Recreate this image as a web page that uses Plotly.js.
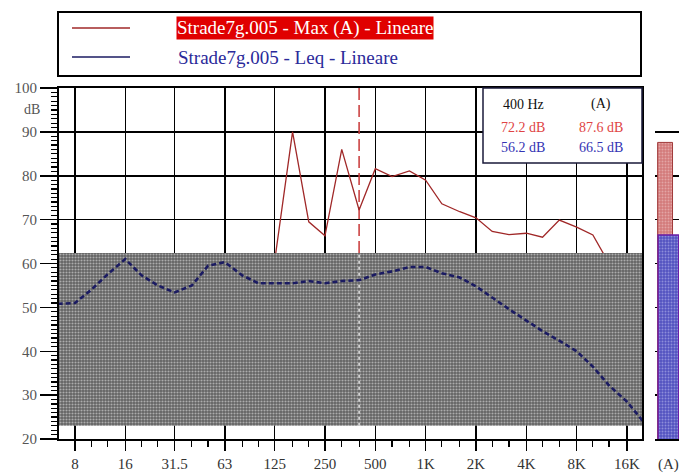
<!DOCTYPE html>
<html>
<head>
<meta charset="utf-8">
<script src="https://cdn.plot.ly/plotly-3.0.1.min.js"></script>
<style>
  html, body { margin: 0; padding: 0; background: #ffffff; }
  #chart { width: 679px; height: 475px; }
</style>
</head>
<body>
<div id="chart"></div>
<script>
// Third-octave band centre frequencies (Hz)
const bands = [6.3, 8, 10, 12.5, 16, 20, 25, 31.5, 40, 50, 63, 80, 100, 125, 160, 200, 250,
  315, 400, 500, 630, 800, 1000, 1250, 1600, 2000, 2500, 3150, 4000, 5000, 6300, 8000,
  10000, 12500, 16000, 20000];

// Max (A) spectrum, dB
const maxA = [null, null, null, null, null, null, null, null, null, null, null, null, null,
  60.5, 90.0, 69.5, 66.3, 86.0, 72.2, 81.6, 79.8, 81.1, 79.0, 73.6, 71.8, 70.4, 67.3,
  66.6, 66.9, 66.0, 69.9, 68.3, 66.5, 60.0, 55.0, null];

// Leq spectrum, dB
const leq = [50.8, 51.0, 54.0, 57.5, 61.0, 57.3, 55.0, 53.4, 55.0, 59.5, 60.3, 57.3, 55.5,
  55.5, 55.5, 56.0, 55.5, 56.0, 56.2, 57.5, 58.2, 59.2, 59.2, 57.8, 56.8, 54.8, 52.2,
  49.6, 47.0, 44.6, 42.4, 40.0, 36.5, 32.2, 28.5, 24.0];

// Overall A-weighted levels: [Max, Leq]
const totalsA = [87.6, 66.5];

// Cursor frequency and the shaded level band
const cursorHz = 400;
const shadeBand = [23.0, 62.4];

// Axis labels
const freqTicks = [8, 16, 31.5, 63, 125, 250, 500, 1000, 2000, 4000, 8000, 16000];
const freqLabels = ['8', '16', '31.5', '63', '125', '250', '500', '1K', '2K', '4K', '8K', '16K'];
const seriesNames = ['Strade7g.005 - Max (A) - Lineare', 'Strade7g.005 - Leq - Lineare'];

const RED = '#a02828';
const BLUE = '#1b1b62';
const SERIF = '"Liberation Serif", "Times New Roman", serif';

const ci = bands.indexOf(cursorHz);
const fmt = v => v.toFixed(1) + ' dB';

const traces = [
  // cursor, upper part
  { x: [cursorHz, cursorHz], y: [shadeBand[1], 100], mode: 'lines', xaxis: 'x', yaxis: 'y',
    line: { color: '#c83838', width: 1.5, dash: '12px,5px' }, hoverinfo: 'skip', showlegend: false },
  // Max (A)
  { x: bands, y: maxA, mode: 'lines', xaxis: 'x', yaxis: 'y', connectgaps: false,
    line: { color: RED, width: 1.3 }, name: seriesNames[0], showlegend: false },
  // shaded level band
  { x: [bands[0], bands[bands.length - 1], bands[bands.length - 1], bands[0], bands[0]],
    y: [shadeBand[0], shadeBand[0], shadeBand[1], shadeBand[1], shadeBand[0]],
    mode: 'lines', fill: 'toself', xaxis: 'x', yaxis: 'y',
    fillcolor: '#626262',
    fillpattern: { shape: '.', fgcolor: '#f6f6f6', size: 3, solidity: 0.38, fillmode: 'overlay' },
    line: { width: 0, color: 'rgba(0,0,0,0)' }, hoverinfo: 'skip', showlegend: false },
  // cursor, inside the band
  { x: [cursorHz, cursorHz], y: [shadeBand[0], shadeBand[1]], mode: 'lines', xaxis: 'x', yaxis: 'y',
    line: { color: '#e6e6e6', width: 1.5, dash: '3px,3px' }, hoverinfo: 'skip', showlegend: false },
  // Leq
  { x: bands, y: leq, mode: 'lines', xaxis: 'x', yaxis: 'y',
    line: { color: BLUE, width: 2.6, dash: '5px,3px' }, name: seriesNames[1], showlegend: false },
  // overall (A) bars
  { x: [0.42], y: [totalsA[0]], type: 'bar', xaxis: 'x2', yaxis: 'y', width: [0.62],
    marker: { color: '#d27a7a', line: { color: '#a03a3a', width: 1 },
      pattern: { shape: '.', fgcolor: '#f4d0d0', size: 3, solidity: 0.35, fillmode: 'overlay' } },
    hoverinfo: 'skip', showlegend: false },
  { x: [0.56], y: [totalsA[1]], type: 'bar', xaxis: 'x2', yaxis: 'y', width: [0.86],
    marker: { color: '#5252c0', line: { color: '#6a1ea8', width: 1.5 },
      pattern: { shape: '.', fgcolor: '#c8c8f4', size: 3, solidity: 0.35, fillmode: 'overlay' } },
    hoverinfo: 'skip', showlegend: false }
];

// pixel helpers for paper-positioned decorations
const L = 59, W = 620, T = 88, H = 351;
const px = v => (v - L) / W;
const py = v => (T + H - v) / H;

const mainRight = px(642);

const shapes = [
  // legend frame
  { type: 'rect', xref: 'paper', yref: 'paper', x0: px(58), x1: px(641), y0: py(76), y1: py(12),
    line: { color: '#000', width: 2 }, fillcolor: '#fff', layer: 'below' },
  { type: 'line', xref: 'paper', yref: 'paper', x0: px(72), x1: px(130), y0: py(28), y1: py(28),
    line: { color: RED, width: 1.5 } },
  { type: 'line', xref: 'paper', yref: 'paper', x0: px(72), x1: px(130), y0: py(57), y1: py(57),
    line: { color: BLUE, width: 1.5 } },
  // readout box
  { type: 'rect', xref: 'paper', yref: 'paper', x0: px(483), x1: mainRight, y0: py(163), y1: 1,
    line: { color: '#1a1a3a', width: 1.5 }, fillcolor: '#fff', layer: 'above' }
];

const annFont = (c, s) => ({ family: SERIF, size: s || 14, color: c });
const centred = { xref: 'paper', yref: 'paper', xanchor: 'center', yanchor: 'middle', showarrow: false };
const annotations = [
  { xref: 'paper', yref: 'paper', x: px(176), y: py(28), xanchor: 'left', yanchor: 'middle',
    text: seriesNames[0], showarrow: false, bgcolor: '#e00000', borderpad: 0,
    font: annFont('#ffffff', 19) },
  { xref: 'paper', yref: 'paper', x: px(176), y: py(57), xanchor: 'left', yanchor: 'middle',
    text: seriesNames[1], showarrow: false, font: annFont('#2a2a9a', 19) },
  Object.assign({ x: px(523), y: py(104), text: cursorHz + ' Hz', font: annFont('#111') }, centred),
  Object.assign({ x: px(601), y: py(104), text: '(A)', font: annFont('#111') }, centred),
  Object.assign({ x: px(523), y: py(127), text: fmt(maxA[ci]), font: annFont('#e04444') }, centred),
  Object.assign({ x: px(601), y: py(127), text: fmt(totalsA[0]), font: annFont('#e04444') }, centred),
  Object.assign({ x: px(523), y: py(148), text: fmt(leq[ci]), font: annFont('#3434b4') }, centred),
  Object.assign({ x: px(601), y: py(148), text: fmt(totalsA[1]), font: annFont('#3434b4') }, centred),
  // unit label under the top tick
  { xref: 'paper', yref: 'paper', x: px(42), y: py(110), xanchor: 'right', yanchor: 'middle',
    text: 'dB', showarrow: false, font: { family: SERIF, size: 14, color: '#555' } }
];

const layout = {
  width: 679, height: 475,
  margin: { l: L, r: 679 - L - W, t: T, b: 475 - T - H, pad: 0 },
  paper_bgcolor: '#ffffff', plot_bgcolor: '#ffffff',
  showlegend: false, barmode: 'overlay',
  font: { family: SERIF, size: 15, color: '#333' },
  xaxis: {
    type: 'log', domain: [0, mainRight],
    range: [Math.log10(8) - 16 / 167.2, Math.log10(16000) + 15 / 167.2],
    tickvals: freqTicks, ticktext: freqLabels,
    ticks: 'outside', ticklen: 10, tickwidth: 1.5, tickcolor: '#000',
    minor: { tickvals: bands, ticks: 'outside', ticklen: 6, tickwidth: 1.2, tickcolor: '#000', showgrid: false },
    showgrid: true, gridcolor: '#000', gridwidth: 1.5,
    showline: true, linecolor: '#000', linewidth: 2, mirror: true,
    zeroline: false, tickfont: { family: SERIF, size: 15, color: '#333' }
  },
  xaxis2: {
    domain: [px(655), 1], range: [0, 1], anchor: 'y',
    tickvals: [0.56], ticktext: ['(A)'], ticks: 'outside', ticklen: 10, tickcolor: 'rgba(0,0,0,0)',
    showgrid: false, zeroline: false, showline: true, linecolor: '#000', linewidth: 2,
    tickfont: { family: SERIF, size: 15, color: '#333' }
  },
  yaxis: {
    range: [20, 100], dtick: 10, tick0: 20,
    ticks: 'outside', ticklen: 17, tickwidth: 1.5, tickcolor: '#000',
    minor: { dtick: 1, ticks: 'outside', ticklen: 6, tickwidth: 1.2, tickcolor: '#000', showgrid: false },
    showgrid: true, gridcolor: '#000', gridwidth: 1.5,
    showline: true, linecolor: '#000', linewidth: 2, mirror: true,
    zeroline: false, tickfont: { family: SERIF, size: 15, color: '#555' }
  },
  shapes: shapes,
  annotations: annotations
};

Plotly.newPlot('chart', traces, layout, { staticPlot: true, displayModeBar: false });
</script>
</body>
</html>
